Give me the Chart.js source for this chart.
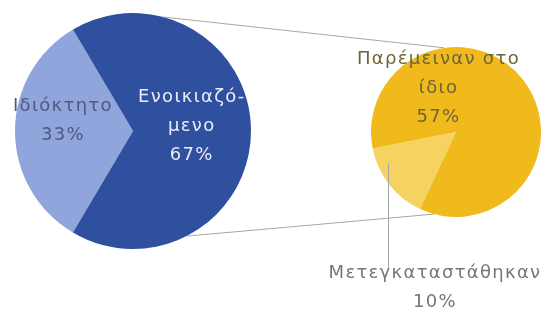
<!DOCTYPE html>
<html>
<head>
<meta charset="utf-8">
<script src="https://cdn.jsdelivr.net/npm/chart.js@4.4.1/dist/chart.umd.min.js"></script>
<style>
  html, body { margin: 0; padding: 0; background: #fff; }
  #wrap { position: relative; width: 548px; height: 323px; }
  #wrap canvas { position: absolute; left: 0; top: 0; }
</style>
</head>
<body>
<div id="wrap">
  <canvas id="mainPie" width="548" height="323"></canvas>
  <canvas id="splitPie" width="548" height="323"></canvas>
</div>
<script>
// housing type (share of total)
const mainLabels = [['Ιδιόκτητο'], ['Ενοικιαζό-', 'μενο']];
const mainValues = [33, 67];
const mainColors = ['#8fa5dc', '#2f4f9f'];

// breakdown of the rented share (share of total)
const splitLabels = [['Μετεγκαταστάθηκαν'], ['Παρέμειναν στο', 'ίδιο']];
const splitValues = [10, 57];
const splitColors = ['#f6d260', '#f0ba1c'];

const FONT = '18px "DejaVu Sans"';
const LINE_H = 29;
const rad = d => d * Math.PI / 180;

function drawBlock(ctx, lines, x, y, color) {
  ctx.save();
  ctx.font = FONT;
  ctx.letterSpacing = '1.3px';
  ctx.fillStyle = color;
  ctx.textAlign = 'center';
  ctx.textBaseline = 'middle';
  const top = y - (lines.length - 1) * LINE_H / 2;
  lines.forEach((t, i) => ctx.fillText(t, x, top + i * LINE_H));
  ctx.restore();
}

// text for slice i: its label lines plus the percentage
function sliceText(labels, values, i) {
  return labels[i].concat([values[i] + '%']);
}

// draws labels at a polar spot (angle in degrees, fraction of radius) of each pie
const sliceLabels = {
  id: 'sliceLabels',
  afterDatasetsDraw(chart, args, opts) {
    const ctx = chart.ctx;
    const arcs = chart.getDatasetMeta(0).data;
    opts.spots.forEach((s, i) => {
      if (!s) return;
      const a = arcs[i];
      const x = a.x + Math.cos(rad(s.ang)) * a.outerRadius * s.frac;
      const y = a.y + Math.sin(rad(s.ang)) * a.outerRadius * s.frac;
      drawBlock(ctx, sliceText(opts.labels, opts.values, i), x, y, s.color);
    });
  }
};

const baseOptions = {
  responsive: false,
  animation: false,
  events: [],
  plugins: { legend: { display: false }, tooltip: { enabled: false } }
};

const mainChart = new Chart(document.getElementById('mainPie'), {
  type: 'pie',
  data: {
    labels: mainLabels.map(l => l.join('')),
    datasets: [{ data: mainValues, backgroundColor: mainColors, borderWidth: 0, hoverOffset: 0 }]
  },
  options: {
    ...baseOptions,
    rotation: 210.6,
    layout: { padding: { left: 15, top: 13, right: 297, bottom: 74 } },
    plugins: {
      ...baseOptions.plugins,
      sliceLabels: {
        labels: mainLabels,
        values: mainValues,
        spots: [
          { ang: 188, frac: 0.6, color: '#4d5a80' },
          { ang: -5, frac: 0.5, color: '#e8ecf8' }
        ]
      }
    }
  },
  plugins: [sliceLabels]
});

// connector lines between the two pies and the leader for the small slice
const pieLinks = {
  id: 'pieLinks',
  beforeDatasetsDraw(chart) {
    const ctx = chart.ctx;
    const m = mainChart.getDatasetMeta(0).data[0];
    const s = chart.getDatasetMeta(0).data[0];
    const pairs = [[-75, -98], [63, 105]];
    ctx.save();
    ctx.strokeStyle = '#a6a6a6';
    ctx.lineWidth = 1;
    pairs.forEach(([a1, a2]) => {
      ctx.beginPath();
      ctx.moveTo(m.x + Math.cos(rad(a1)) * m.outerRadius, m.y + Math.sin(rad(a1)) * m.outerRadius);
      ctx.lineTo(s.x + Math.cos(rad(a2)) * s.outerRadius, s.y + Math.sin(rad(a2)) * s.outerRadius);
      ctx.stroke();
    });
    ctx.restore();
  },
  afterDatasetsDraw(chart) {
    const ctx = chart.ctx;
    const s = chart.getDatasetMeta(0).data[0];
    const lx = Math.round(s.x + Math.cos(rad(155)) * s.outerRadius * 0.88) + 0.5;
    const ly = s.y + Math.sin(rad(155)) * s.outerRadius * 0.88;
    const bottom = 268;
    ctx.save();
    ctx.strokeStyle = '#a6a6a6';
    ctx.lineWidth = 1;
    ctx.beginPath();
    ctx.moveTo(lx, ly);
    ctx.lineTo(lx, bottom);
    ctx.stroke();
    ctx.restore();
    drawBlock(ctx, sliceText(splitLabels, splitValues, 0), 435, bottom + 20, '#767676');
  }
};

const splitChart = new Chart(document.getElementById('splitPie'), {
  type: 'pie',
  data: {
    labels: splitLabels.map(l => l.join(' ')),
    datasets: [{ data: splitValues, backgroundColor: splitColors, borderWidth: 0, hoverOffset: 0 }]
  },
  options: {
    ...baseOptions,
    rotation: 205,
    layout: { padding: { left: 371, top: 47, right: 7, bottom: 106 } },
    plugins: {
      ...baseOptions.plugins,
      sliceLabels: {
        labels: splitLabels,
        values: splitValues,
        spots: [null, { ang: -112, frac: 0.55, color: '#6e6436' }]
      }
    }
  },
  plugins: [pieLinks, sliceLabels]
});
</script>
</body>
</html>
